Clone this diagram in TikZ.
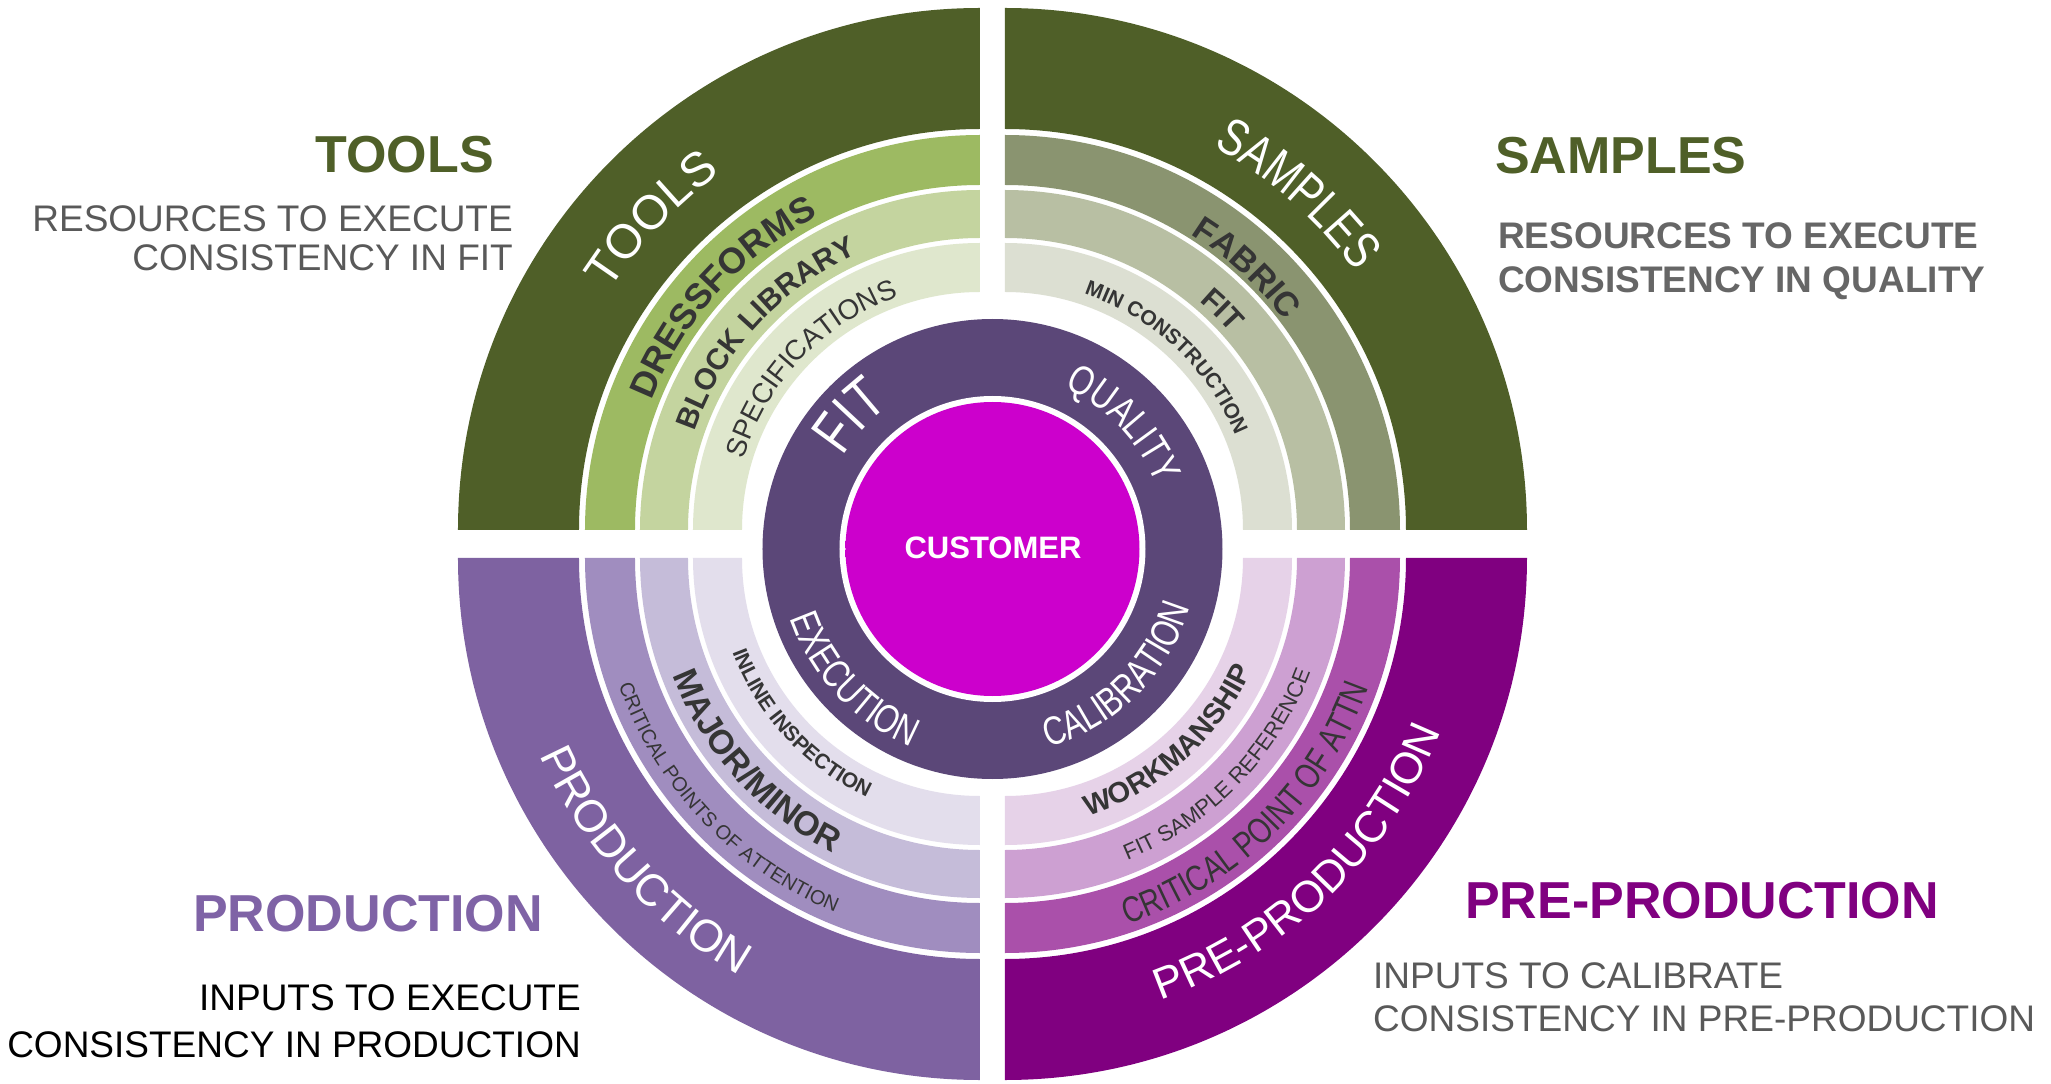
\documentclass[tikz,border=0pt]{standalone}
\usepackage{fontspec}
\setmainfont{Liberation Sans}
\newfontfamily\narrowf[FakeStretch=0.78]{Liberation Sans}
\usetikzlibrary{decorations.text}
\definecolor{olv}{HTML}{4F5F28}
\definecolor{tlb}{HTML}{9DBA62}
\definecolor{tlc}{HTML}{C4D49F}
\definecolor{tld}{HTML}{DFE7CD}
\definecolor{trb}{HTML}{8A9470}
\definecolor{trc}{HTML}{B8BFA3}
\definecolor{trd}{HTML}{DCDFD2}
\definecolor{bla}{HTML}{7E62A1}
\definecolor{blb}{HTML}{A08DBF}
\definecolor{blc}{HTML}{C5BCD9}
\definecolor{bld}{HTML}{E3DEEC}
\definecolor{bra}{HTML}{800080}
\definecolor{brb}{HTML}{AA50AA}
\definecolor{brc}{HTML}{CDA0D2}
\definecolor{brd}{HTML}{E6D2E8}
\definecolor{ring}{HTML}{5B4778}
\definecolor{magA}{HTML}{CC00CC}
\definecolor{magB}{HTML}{E838EE}
\definecolor{dk}{HTML}{353535}
\definecolor{gr}{HTML}{595959}
\definecolor{grb}{HTML}{666666}
\definecolor{prodc}{HTML}{7F63A6}
\pgfdeclareradialshading{magball}{\pgfpointorigin}{color(0bp)=(magA); color(43bp)=(magA); color(47bp)=(magB); color(50bp)=(magB)}
\newcommand{\fsz}[1]{\fontsize{#1}{#1}\selectfont}
\newcommand{\qsec}[6]{\fill[#6, shift={#1}] (#4:#3) arc[start angle=#4, end angle=#5, radius=#3] -- (#5:#2) arc[start angle=#5, end angle=#4, radius=#2] -- cycle;}
\newcommand{\toptext}[5]{\path[shift={#1}, decorate, decoration={text along path, text align=center, text={|#4|#5}}] ({#3+70}:#2) arc[start angle={#3+70}, end angle={#3-70}, radius=#2];}
\newcommand{\bottext}[5]{\path[shift={#1}, decorate, decoration={text along path, text align=center, text={|#4|#5}}] ({#3-70}:#2) arc[start angle={#3-70}, end angle={#3+70}, radius=#2];}
\begin{document}
\begin{tikzpicture}[x=1pt,y=1pt,
  title/.style={inner sep=0pt, font=\fsz{52}\bfseries},
  sub/.style={inner sep=0pt, font=\fsz{37}}]
\useasboundingbox (-992.5,-540) rectangle (1058.5,544);
\fill[white] (-992.5,-540) rectangle (1058.5,544);
\coordinate (tl) at (-12.5,14);
\coordinate (tr) at (12.5,14);
\coordinate (bl) at (-12.5,-14);
\coordinate (br) at (12.5,-14);
\coordinate (rc) at (0,-5);
% top-left: tools
\qsec{(tl)}{401}{522}{90}{180}{olv}
\qsec{(tl)}{345}{395}{90}{180}{tlb}
\qsec{(tl)}{292}{340}{90}{180}{tlc}
\qsec{(tl)}{238}{287}{90}{180}{tld}
% top-right: samples
\qsec{(tr)}{401}{522}{0}{90}{olv}
\qsec{(tr)}{345}{395}{0}{90}{trb}
\qsec{(tr)}{292}{340}{0}{90}{trc}
\qsec{(tr)}{238}{287}{0}{90}{trd}
% bottom-left: production
\qsec{(bl)}{401}{522}{180}{270}{bla}
\qsec{(bl)}{345}{395}{180}{270}{blb}
\qsec{(bl)}{292}{340}{180}{270}{blc}
\qsec{(bl)}{238}{287}{180}{270}{bld}
% bottom-right: pre-production
\qsec{(br)}{401}{522}{270}{360}{bra}
\qsec{(br)}{345}{395}{270}{360}{brb}
\qsec{(br)}{292}{340}{270}{360}{brc}
\qsec{(br)}{238}{287}{270}{360}{brd}
% central rings
\fill[ring] (rc) circle[radius=230];
\fill[white] (rc) circle[radius=153];
\shade[shading=magball] (rc) circle[radius=147];
\node[inner sep=0pt, font=\fsz{31}\bfseries, text=white] (cust) at (0.5,-4) {CUSTOMER};
% ring labels
\toptext{(rc)}{176}{137}{\narrowf\fsz{60}\color{white}}{FIT}
\toptext{(rc)}{176}{43.7}{\narrowf\fsz{41}\color{white}}{QUALITY}
\bottext{(rc)}{214}{223.3}{\narrowf\fsz{40}\color{white}}{EXECUTION}
\bottext{(rc)}{206}{314.6}{\narrowf\fsz{40}\color{white}}{CALIBRATION}
% tools labels
\toptext{(tl)}{441}{136.6}{\fsz{48}\color{white}}{TOOLS}
\toptext{(tl)}{353}{137.9}{\fsz{36}\bfseries\color{dk}}{DRESSFORMS}
\toptext{(tl)}{302}{137.5}{\fsz{30}\bfseries\color{dk}}{BLOCK LIBRARY}
\toptext{(tl)}{247}{136.3}{\fsz{28}\color{dk}}{SPECIFICATIONS}
% samples labels
\toptext{(tr)}{436}{48.9}{\narrowf\fsz{52}\color{white}}{SAMPLES}
\toptext{(tr)}{349}{47.3}{\fsz{34}\bfseries\color{dk}}{FABRIC}
\toptext{(tr)}{300}{45.4}{\fsz{30}\bfseries\color{dk}}{FIT}
\toptext{(tr)}{249}{46.9}{\fsz{21}\bfseries\color{dk}}{MIN  CONSTRUCTION}
% production labels
\bottext{(bl)}{482}{222.1}{\fsz{45}\color{white}}{PRODUCTION}
\bottext{(bl)}{383}{223.6}{\fsz{20}\color{dk}}{CRITICAL POINTS OF ATTENTION}
\bottext{(bl)}{329}{222.2}{\fsz{34}\bfseries\color{dk}}{MAJOR/MINOR}
\bottext{(bl)}{265}{222.8}{\fsz{21}\bfseries\color{dk}}{INLINE INSPECTION}
% pre-production labels
\bottext{(br)}{469}{313.9}{\fsz{44}\color{white}}{PRE-PRODUCTION}
\bottext{(br)}{386}{314.5}{\narrowf\fsz{36}\color{dk}}{CRITICAL POINT OF ATTN}
\bottext{(br)}{326}{315.8}{\fsz{22}\color{dk}}{FIT SAMPLE REFERENCE}
\bottext{(br)}{271}{311.7}{\fsz{29}\bfseries\color{dk}}{WORKMANSHIP}
% titles and captions
\node[title, text=olv, anchor=base east] (ttools) at (-498.5,371) {TOOLS};
\node[sub, text=gr, anchor=base east] (stools1) at (-479.5,312) {RESOURCES TO EXECUTE};
\node[sub, text=gr, anchor=base east] (stools2) at (-479.5,273) {CONSISTENCY IN FIT};
\node[title, text=olv, anchor=base west] (tsamp) at (502.5,370) {SAMPLES};
\node[sub, font=\fsz{37}\bfseries, text=grb, anchor=base west] (ssamp1) at (505.5,295) {RESOURCES TO EXECUTE};
\node[sub, font=\fsz{37}\bfseries, text=grb, anchor=base west] (ssamp2) at (505.5,251) {CONSISTENCY IN QUALITY};
\node[title, text=prodc, anchor=base east] (tprod) at (-449.5,-387) {PRODUCTION};
\node[sub, text=black, anchor=base east] (sprod1) at (-411.5,-466) {INPUTS TO EXECUTE};
\node[sub, text=black, anchor=base east] (sprod2) at (-411.5,-513) {CONSISTENCY IN PRODUCTION};
\node[title, text=bra, anchor=base west] (tpre) at (472.5,-374) {PRE-PRODUCTION};
\node[sub, text=gr, anchor=base west] (spre1) at (380.5,-444) {INPUTS TO CALIBRATE};
\node[sub, text=gr, anchor=base west] (spre2) at (380.5,-487) {CONSISTENCY IN PRE-PRODUCTION};
\end{tikzpicture}
\end{document}
